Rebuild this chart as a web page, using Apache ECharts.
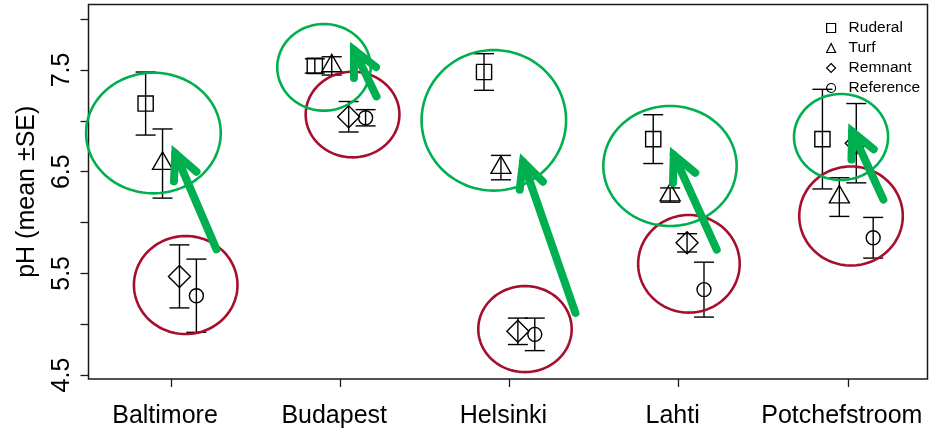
<!DOCTYPE html>
<html>
<head>
<meta charset="utf-8">
<script src="https://cdn.jsdelivr.net/npm/echarts@6/dist/echarts.min.js"></script>
<style>
  html, body { margin: 0; padding: 0; background: #fff; }
  #chart { width: 932px; height: 434px; }
</style>
</head>
<body>
<div id="chart"></div>
<script>
// Soil pH (mean ± SE) by city and habitat type
const cityNames = ['Baltimore', 'Budapest', 'Helsinki', 'Lahti', 'Potchefstroom'];

const ruderalMean   = [7.17, 7.54, 7.48, 6.82, 6.82];
const ruderalSE     = [0.31, 0.07, 0.18, 0.24, 0.49];
const turfMean      = [6.58, 7.54, 6.54, 6.27, 6.25];
const turfSE        = [0.34, 0.09, 0.12, 0.07, 0.19];
const remnantMean   = [5.47, 7.04, 4.93, 5.80, 6.78];
const remnantSE     = [0.31, 0.15, 0.13, 0.09, 0.39];
const referenceMean = [5.28, 7.03, 4.90, 5.34, 5.85];
const referenceSE   = [0.36, 0.08, 0.16, 0.27, 0.20];

const yTickValues  = [4.5, 5, 5.5, 6, 6.5, 7, 7.5, 8];
const yLabelValues = [4.5, 5.5, 6.5, 7.5];

// Highlight rings in data units: [x, pH, half-width, half-height]
const urbanRings = [
  [0.896, 6.88, 0.398, 0.593],
  [1.904, 7.526, 0.276, 0.426],
  [2.908, 7.005, 0.427, 0.691],
  [3.949, 6.556, 0.394, 0.590],
  [4.960, 6.841, 0.278, 0.423]
];
const nativeRings = [
  [1.087, 5.385, 0.306, 0.482],
  [2.073, 7.062, 0.277, 0.421],
  [3.092, 4.952, 0.276, 0.423],
  [4.061, 5.594, 0.300, 0.480],
  [5.019, 6.064, 0.306, 0.487]
];
// Shift arrows from native to urban habitats: [x0, pH0, x1, pH1]
const shiftArrows = [
  [1.278, 5.700, 1.004, 6.762],
  [2.225, 7.205, 2.058, 7.778],
  [3.398, 5.073, 3.063, 6.681],
  [4.235, 5.697, 3.949, 6.746],
  [5.220, 6.189, 5.003, 6.976]
];

const FONT = '"Liberation Sans", Arial, Helvetica, sans-serif';
const INK = '#000';
const GREEN = '#00b050';
const RED = '#a50f2d';

const X_MIN = 0.5124, X_MAX = 5.471;
const Y_MIN = 4.461, Y_MAX = 8.144;

function markerShape(kind, cx, cy) {
  const st = { fill: 'none', stroke: INK, lineWidth: 1.4 };
  if (kind === 'square') {
    return { type: 'rect', shape: { x: cx - 7.6, y: cy - 7.6, width: 15.2, height: 15.2 }, style: st };
  }
  if (kind === 'triangle') {
    const r = 11.6, h = 10.0;
    return { type: 'polygon', shape: { points: [[cx, cy - r], [cx + h, cy + r / 2], [cx - h, cy + r / 2]] }, style: st };
  }
  if (kind === 'diamond') {
    const d = 11;
    return { type: 'polygon', shape: { points: [[cx, cy - d], [cx + d, cy], [cx, cy + d], [cx - d, cy]] }, style: st };
  }
  return { type: 'circle', shape: { cx: cx, cy: cy, r: 7 }, style: st };
}

function groupSeries(name, means, ses, offset, kind) {
  return {
    type: 'custom',
    name: name,
    z: 2,
    data: means.map((m, i) => [i + 1 + offset, m, ses[i]]),
    encode: { x: 0, y: 1 },
    renderItem: function (params, api) {
      const x = api.value(0), m = api.value(1), se = api.value(2);
      const c = api.coord([x, m]);
      const t = api.coord([x, m + se]);
      const b = api.coord([x, m - se]);
      const ls = { stroke: INK, lineWidth: 1.4 };
      const cap = 10;
      return {
        type: 'group',
        children: [
          { type: 'line', shape: { x1: c[0], y1: t[1], x2: c[0], y2: b[1] }, style: ls },
          { type: 'line', shape: { x1: c[0] - cap, y1: t[1], x2: c[0] + cap, y2: t[1] }, style: ls },
          { type: 'line', shape: { x1: c[0] - cap, y1: b[1], x2: c[0] + cap, y2: b[1] }, style: ls },
          markerShape(kind, c[0], c[1])
        ]
      };
    }
  };
}

function ringSeries(name, rings, color) {
  return {
    type: 'custom',
    name: name,
    z: 5,
    silent: true,
    data: rings,
    renderItem: function (params, api) {
      const x = api.value(0), y = api.value(1), rx = api.value(2), ry = api.value(3);
      const c = api.coord([x, y]);
      const e = api.coord([x + rx, y + ry]);
      const a = Math.abs(e[0] - c[0]), bb = Math.abs(c[1] - e[1]);
      const pts = [];
      for (let k = 0; k <= 120; k++) {
        const th = (k / 120) * Math.PI * 2;
        pts.push([c[0] + a * Math.cos(th), c[1] + bb * Math.sin(th)]);
      }
      return { type: 'polyline', shape: { points: pts }, style: { stroke: color, lineWidth: 2.6, fill: 'none' } };
    }
  };
}

function arrowSeries(name, arrows, color) {
  return {
    type: 'custom',
    name: name,
    z: 6,
    silent: true,
    data: arrows,
    renderItem: function (params, api) {
      const p0 = api.coord([api.value(0), api.value(1)]);
      const p1 = api.coord([api.value(2), api.value(3)]);
      const dx = p1[0] - p0[0], dy = p1[1] - p0[1];
      const len = Math.hypot(dx, dy);
      const ux = dx / len, uy = dy / len;
      const w = 8, ang = 26 * Math.PI / 180, wing = 28;
      const miter = (w / 2) / Math.sin(ang);
      const vx = p1[0] - ux * miter, vy = p1[1] - uy * miter;
      const tx = p0[0] + ux * (w / 2), ty = p0[1] + uy * (w / 2);
      const bx = -ux, by = -uy;
      const rot = (s) => [bx * Math.cos(s) - by * Math.sin(s), bx * Math.sin(s) + by * Math.cos(s)];
      const r1 = rot(ang), r2 = rot(-ang);
      const st = { stroke: color, lineWidth: w, lineCap: 'round', lineJoin: 'miter', miterLimit: 10, fill: 'none' };
      return {
        type: 'group',
        children: [
          { type: 'line', shape: { x1: tx, y1: ty, x2: vx, y2: vy }, style: st },
          { type: 'polyline', shape: { points: [[vx + r1[0] * wing, vy + r1[1] * wing], [vx, vy], [vx + r2[0] * wing, vy + r2[1] * wing]] }, style: st }
        ]
      };
    }
  };
}

const chart = echarts.init(document.getElementById('chart'), null, { renderer: 'canvas' });

const legendIcon = { color: 'transparent', borderColor: INK, borderWidth: 1.2 };

chart.setOption({
  animation: false,
  backgroundColor: '#fff',
  textStyle: { fontFamily: FONT },
  grid: {
    left: 88.5, top: 4.5, right: 4.5, bottom: 55,
    show: true, borderColor: '#1a1a1a', borderWidth: 1.5, backgroundColor: 'transparent'
  },
  legend: {
    orient: 'vertical',
    left: 826, top: 18,
    padding: 0,
    itemWidth: 9, itemHeight: 9, itemGap: 0,
    selectedMode: false,
    textStyle: { fontSize: 15.5, color: INK, fontFamily: FONT, lineHeight: 20, padding: [0, 0, 0, 8] },
    data: [
      { name: 'Ruderal', icon: 'rect', itemStyle: legendIcon },
      { name: 'Turf', icon: 'triangle', itemStyle: legendIcon },
      { name: 'Remnant', icon: 'diamond', itemStyle: legendIcon },
      { name: 'Reference', icon: 'circle', itemStyle: legendIcon }
    ]
  },
  xAxis: {
    type: 'value', min: X_MIN, max: X_MAX,
    splitLine: { show: false },
    axisLine: { show: false },
    axisTick: { show: true, customValues: [1, 2, 3, 4, 5], length: 8, lineStyle: { color: '#1a1a1a', width: 1.3 } },
    axisLabel: {
      customValues: [1, 2, 3, 4, 5],
      formatter: v => cityNames[Math.round(v) - 1],
      fontSize: 25, color: INK, fontFamily: FONT, margin: 25,
      padding: [0, 12, 0, 0]
    }
  },
  yAxis: {
    type: 'value', min: Y_MIN, max: Y_MAX,
    splitLine: { show: false },
    axisLine: { show: false },
    axisTick: { show: true, customValues: yTickValues, length: 8, lineStyle: { color: '#1a1a1a', width: 1.3 } },
    axisLabel: {
      customValues: yLabelValues,
      formatter: v => v.toFixed(1),
      rotate: 90,
      fontSize: 25, color: INK, fontFamily: FONT, margin: 14
    },
    name: 'pH (mean \u00b1SE)',
    nameLocation: 'middle',
    nameRotate: 90,
    nameGap: 49,
    nameTextStyle: { fontSize: 25, color: INK, fontFamily: FONT }
  },
  series: [
    groupSeries('Ruderal', ruderalMean, ruderalSE, -0.15, 'square'),
    groupSeries('Turf', turfMean, turfSE, -0.05, 'triangle'),
    groupSeries('Remnant', remnantMean, remnantSE, 0.05, 'diamond'),
    groupSeries('Reference', referenceMean, referenceSE, 0.15, 'circle'),
    ringSeries('native rings', nativeRings, RED),
    ringSeries('urban rings', urbanRings, GREEN),
    arrowSeries('shift arrows', shiftArrows, GREEN)
  ]
});
</script>
</body>
</html>
